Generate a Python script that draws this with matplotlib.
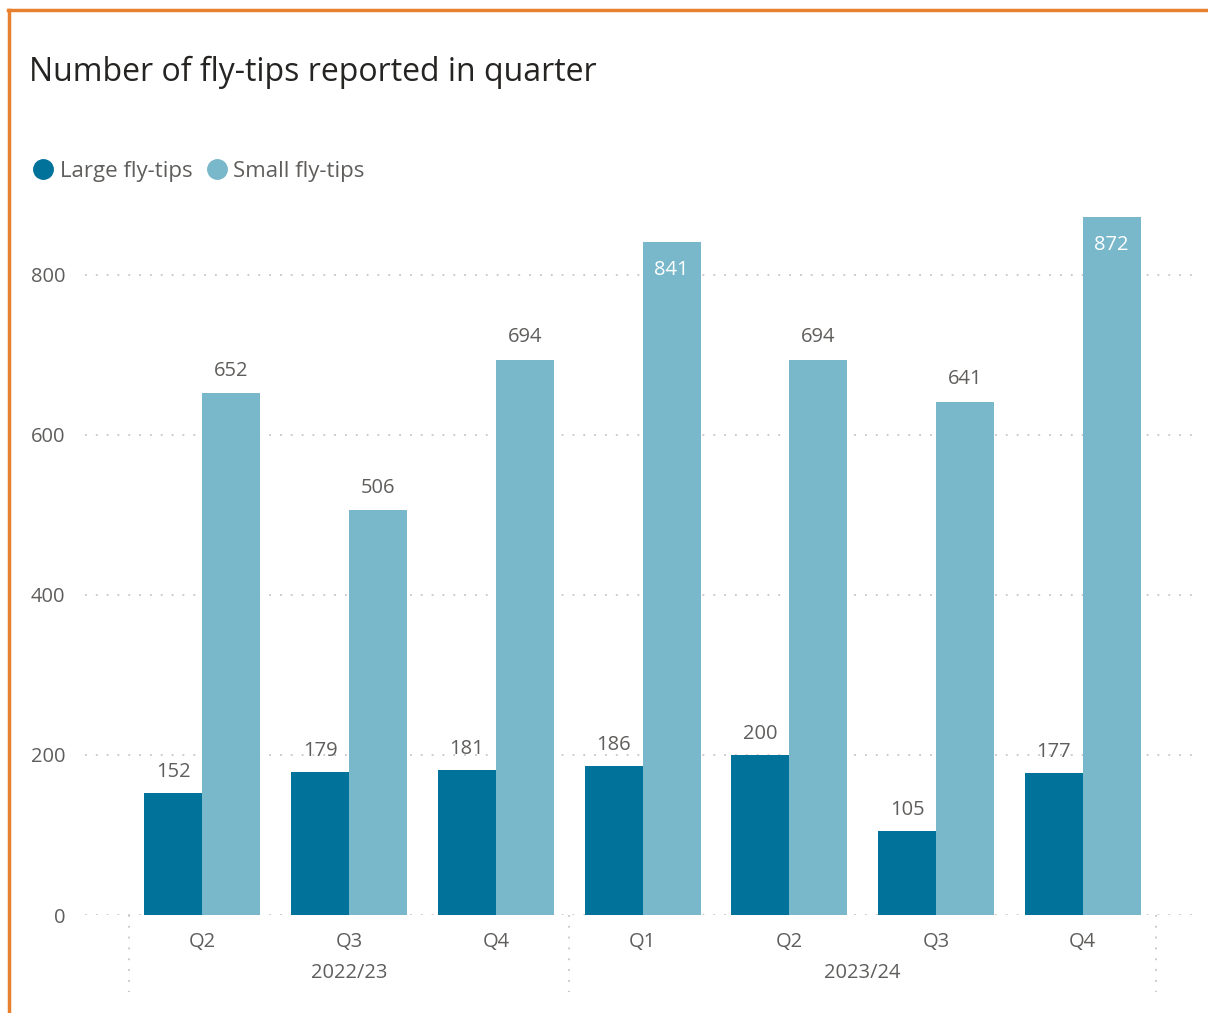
import matplotlib.pyplot as plt
from matplotlib.lines import Line2D
import matplotlib.transforms as mtransforms

quarters = ['Q2', 'Q3', 'Q4', 'Q1', 'Q2', 'Q3', 'Q4']
years = ['2022/23', '2023/24']
year_spans = [(0, 2), (3, 6)]
large = [152, 179, 181, 186, 200, 105, 177]
small = [652, 506, 694, 841, 694, 641, 872]

plt.rcParams['font.family'] = ['Open Sans', 'DejaVu Sans']
c_large = '#01729A'
c_small = '#79B7CA'
c_text = '#605E5C'
c_grid = '#C8C6C4'

fig = plt.figure(figsize=(12.08, 10.13), dpi=100)
ax = fig.add_axes([0.0704, 0.0967, 0.9206, 0.7009])

w = 0.395
x = list(range(len(quarters)))
ax.bar([i - w / 2 for i in x], large, width=w, color=c_large, zorder=3)
ax.bar([i + w / 2 for i in x], small, width=w, color=c_small, zorder=3)

# data labels
for i in x:
    ax.annotate(str(large[i]), (i - w / 2, large[i]), xytext=(0, 8), textcoords='offset points',
                ha='center', va='bottom', fontsize=14.5, color=c_text)
    if small[i] > 800:
        ax.annotate(str(small[i]), (i + w / 2, small[i]), xytext=(0, -13), textcoords='offset points',
                    ha='center', va='top', fontsize=14.5, color='white', zorder=4)
    else:
        ax.annotate(str(small[i]), (i + w / 2, small[i]), xytext=(0, 9), textcoords='offset points',
                    ha='center', va='bottom', fontsize=14.5, color=c_text)

ax.set_xlim(-0.80, 6.78)
ax.set_ylim(0, 887)
ax.set_yticks([0, 200, 400, 600, 800])
ax.yaxis.grid(True, color=c_grid, linestyle=(0, (1, 5)), linewidth=1.3, zorder=0)
ax.set_xticks(x)
ax.set_xticklabels(quarters)
ax.tick_params(axis='both', length=0, labelsize=14.5, labelcolor=c_text)
ax.tick_params(axis='y', pad=14)
ax.tick_params(axis='x', pad=12)
for s in ax.spines.values():
    s.set_visible(False)

# year groups under the quarters
trans = mtransforms.blended_transform_factory(ax.transData, ax.transAxes)
for sep in [-0.5, 2.5, 6.5]:
    ax.plot([sep, sep], [0, -0.108], transform=trans, clip_on=False,
            color=c_grid, linestyle=(0, (1, 5)), linewidth=1.3)
for name, (a, b) in zip(years, year_spans):
    ax.text((a + b) / 2, -0.082, name, transform=trans, ha='center', va='center',
            fontsize=14.5, color=c_text)

fig.text(0.024, 0.929, 'Number of fly-tips reported in quarter', fontsize=23,
         color='#252423', va='center', ha='left')

handles = [Line2D([], [], marker='o', linestyle='none', markersize=14, color=c_large),
           Line2D([], [], marker='o', linestyle='none', markersize=14, color=c_small)]
fig.legend(handles, ['Large fly-tips', 'Small fly-tips'], loc='center left',
           bbox_to_anchor=(0.008, 0.831), ncol=2, frameon=False, fontsize=16,
           labelcolor=c_text, handletextpad=0.15, columnspacing=0.5, handlelength=1.2)

# orange frame on left and top
fig.add_artist(Line2D([0.0075, 0.0075], [0, 0.990], color='#E8812F', linewidth=2.5,
                      transform=fig.transFigure))
fig.add_artist(Line2D([0.0065, 1.0], [0.990, 0.990], color='#E8812F', linewidth=2.5,
                      transform=fig.transFigure))

fig.savefig('out.png', dpi=100)
